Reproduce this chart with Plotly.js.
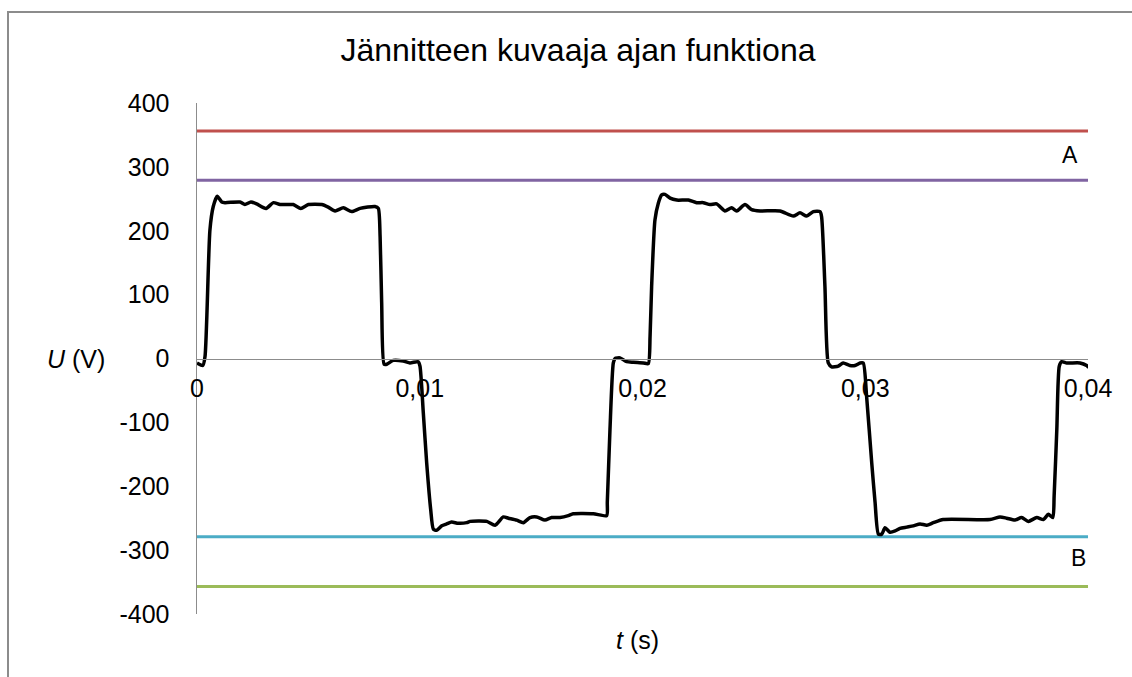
<!DOCTYPE html>
<html>
<head>
<meta charset="utf-8">
<script src="https://cdn.plot.ly/plotly-3.0.1.min.js"></script>
<style>html,body{margin:0;padding:0;background:#fff;}#chart{width:1132px;height:677px;}</style>
</head>
<body>
<div id="chart"></div>
<script>
// Time (s)
const t = [0, 0.00026, 0.00036, 0.00058, 0.00073, 0.00091, 0.00111, 0.00126, 0.00193, 0.00215,
  0.00242, 0.00268, 0.0031, 0.00343, 0.00373, 0.00432, 0.00466, 0.005, 0.0056, 0.00589,
  0.0062, 0.00657, 0.00694, 0.00732, 0.00799, 0.00814, 0.00822, 0.00829, 0.0084, 0.00852,
  0.00881, 0.00926, 0.00956, 0.00993, 0.01001, 0.01016, 0.01031, 0.01049, 0.01061, 0.01076,
  0.01099, 0.01121, 0.01143, 0.01173, 0.01211, 0.01226, 0.01301, 0.01338, 0.01375, 0.01398,
  0.01435, 0.01465, 0.01495, 0.01525, 0.01562, 0.01592, 0.0163, 0.01667, 0.01689, 0.01779,
  0.01839, 0.01842, 0.01854, 0.01869, 0.01877, 0.01899, 0.01929, 0.01959, 0.02004, 0.02026,
  0.02034, 0.02041, 0.02056, 0.02071, 0.02086, 0.02101, 0.02124, 0.02154, 0.02206, 0.02243,
  0.02273, 0.02303, 0.02333, 0.0237, 0.024, 0.02423, 0.0246, 0.0249, 0.02528, 0.02617,
  0.02677, 0.02707, 0.02737, 0.02767, 0.02797, 0.02804, 0.02819, 0.02834, 0.02849, 0.02879,
  0.02901, 0.02931, 0.02954, 0.02977, 0.02991, 0.03006, 0.03029, 0.03044, 0.03059, 0.03074,
  0.03089, 0.03111, 0.03134, 0.03156, 0.03186, 0.03216, 0.03246, 0.03276, 0.03306, 0.0335,
  0.0356, 0.03605, 0.03635, 0.03672, 0.03702, 0.03732, 0.0377, 0.038, 0.03822, 0.03842,
  0.03848, 0.0386, 0.03871, 0.03882, 0.03905, 0.03964, 0.03994, 0.04003];
// Voltage (V)
const U = [-7, -11, 3, 201, 238, 254, 245, 244, 245, 241,
  245, 242, 235, 244, 241, 241, 235, 241, 241, 237,
  231, 236, 230, 235, 238, 235, 191, 88, -9, -9,
  -3, -4, -7, -5, -12, -85, -163, -236, -267, -269,
  -262, -259, -256, -258, -257, -255, -255, -261, -248, -250,
  -253, -257, -249, -248, -253, -249, -249, -246, -243, -243,
  -246, -225, -111, -7, 0, 1, -5, -6, -7, -8,
  35, 113, 217, 243, 256, 257, 251, 248, 248, 244,
  244, 241, 242, 231, 236, 231, 241, 233, 231, 231,
  223, 228, 223, 230, 230, 222, 113, -7, -13, -12,
  -7, -11, -11, -7, -7, -59, -163, -225, -275, -275,
  -265, -272, -270, -266, -264, -262, -259, -261, -257, -252,
  -252, -248, -250, -253, -249, -255, -249, -252, -244, -249,
  -215, -111, -12, -5, -7, -7, -11, -14];

// Reference levels
const levelNames = ['A1', 'A2', 'B1', 'B2'];
const levelValues = [356, 279, -279, -357];
const levelColors = ['#C0504D', '#8064A2', '#4BACC6', '#9BBB59'];
const levelX = [0, 0.04];

// Axis ticks
const xTickVals = [0, 0.01, 0.02, 0.03, 0.04];
const xTickText = ['0', '0,01', '0,02', '0,03', '0,04'];
const yTickVals = [-400, -300, -200, -100, 0, 100, 200, 300, 400];
const yTickText = ['-400', '-300', '-200', '-100', '0', '100', '200', '300', '400'];

// Region labels
const regionLabels = ['A', 'B'];
const regionLabelY = [318, -312];

const font = 'Liberation Sans, Arial, sans-serif';

const traces = levelValues.map((v, i) => ({
  type: 'scatter', mode: 'lines', name: levelNames[i],
  x: levelX, y: [v, v],
  line: {color: levelColors[i], width: 3},
  hoverinfo: 'skip'
}));
traces.push({
  type: 'scatter', mode: 'lines', name: 'U',
  x: t, y: U,
  line: {color: '#000000', width: 3.5, shape: 'spline', smoothing: 0.6},
  cliponaxis: false
});

const layout = {
  width: 1132, height: 677,
  paper_bgcolor: '#ffffff', plot_bgcolor: '#ffffff',
  margin: {l: 197, r: 44, t: 103, b: 63},
  showlegend: false,
  separators: ', ',
  font: {family: font, color: '#000000'},
  title: {
    text: 'Jännitteen kuvaaja ajan funktiona',
    font: {family: font, size: 32, color: '#000000'},
    x: (578 - 197) / 891, xref: 'paper', xanchor: 'center',
    y: 1 - 50 / 677, yref: 'container', yanchor: 'middle'
  },
  xaxis: {
    range: [0, 0.04],
    anchor: 'free', position: 0.5,
    tickvals: xTickVals, ticktext: xTickText,
    showline: true, linecolor: '#8c8c8c', linewidth: 1.5,
    showgrid: false, zeroline: false,
    ticks: '', ticklabelstandoff: 7,
    tickfont: {family: font, size: 25, color: '#000000'}
  },
  yaxis: {
    range: [-400, 400],
    tickvals: yTickVals, ticktext: yTickText,
    showline: true, linecolor: '#8c8c8c', linewidth: 1.5,
    showgrid: false, zeroline: false,
    ticks: '', ticklabelstandoff: 21,
    tickfont: {family: font, size: 25, color: '#000000'}
  },
  annotations: [
    {text: '<i>U</i> (V)', xref: 'paper', yref: 'y', x: (76 - 197) / 891, y: 0,
     xanchor: 'center', yanchor: 'middle', showarrow: false,
     font: {family: font, size: 25, color: '#000000'}},
    {text: '<i>t</i> (s)', xref: 'paper', yref: 'paper', x: (637 - 197) / 891, y: (614 - 640) / 511,
     xanchor: 'center', yanchor: 'middle', showarrow: false,
     font: {family: font, size: 25, color: '#000000'}},
    {text: regionLabels[0], xref: 'paper', yref: 'y', x: (1070 - 197) / 891, y: regionLabelY[0],
     xanchor: 'center', yanchor: 'middle', showarrow: false,
     font: {family: font, size: 23, color: '#000000'}},
    {text: regionLabels[1], xref: 'paper', yref: 'y', x: (1078 - 197) / 891, y: regionLabelY[1],
     xanchor: 'center', yanchor: 'middle', showarrow: false,
     font: {family: font, size: 23, color: '#000000'}}
  ],
  shapes: [
    {type: 'rect', xref: 'paper', yref: 'paper', layer: 'below',
     x0: (8 - 197) / 891, x1: (1150 - 197) / 891,
     y0: (614 - 700) / 511, y1: (614 - 12) / 511,
     line: {color: '#8c8c8c', width: 2}, fillcolor: 'rgba(0,0,0,0)'}
  ]
};

Plotly.newPlot('chart', traces, layout, {displayModeBar: false, staticPlot: true});
</script>
</body>
</html>
